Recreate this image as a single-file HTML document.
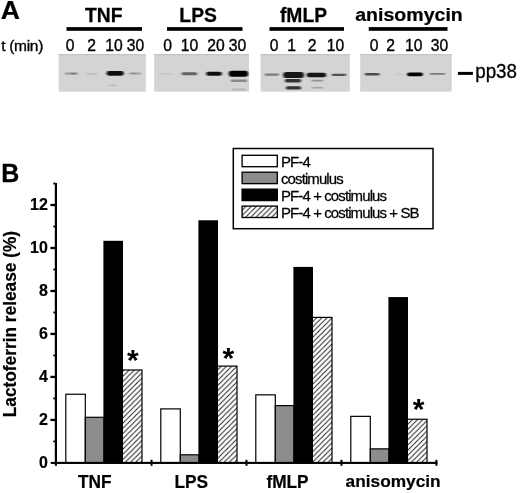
<!DOCTYPE html>
<html><head><meta charset="utf-8"><title>Figure</title>
<style>
html,body{margin:0;padding:0;background:#fff;}
body{width:520px;height:493px;overflow:hidden;}
svg{display:block;font-family:"Liberation Sans",Arial,sans-serif;}
.b{font-weight:bold;}
</style></head><body>
<svg width="520" height="493" viewBox="0 0 520 493">
<defs>
<pattern id="hatch" patternUnits="userSpaceOnUse" width="5.2" height="5.2">
<rect width="5.2" height="5.2" fill="#fff"/>
<path d="M-1,6.2 L6.2,-1 M-1,1 L1,-1 M4.2,6.2 L6.2,4.2" stroke="#1a1a1a" stroke-width="0.95" fill="none"/>
</pattern>
<filter id="bl1" x="-20%" y="-100%" width="140%" height="300%"><feGaussianBlur stdDeviation="1.2 0.7"/></filter>
<filter id="bl2" x="-20%" y="-100%" width="140%" height="300%"><feGaussianBlur stdDeviation="0.9 0.6"/></filter>
<filter id="bl3" x="-5%" y="-5%" width="110%" height="110%"><feGaussianBlur stdDeviation="0.5"/></filter>
</defs>
<rect width="520" height="493" fill="#fff"/>

<text class="b" transform="translate(0.7,19.0) scale(1,0.98)" font-size="26.6" stroke="#000" stroke-width="0.25">A</text>
<text class="b" transform="translate(1.3,181.6) scale(1,1.04)" font-size="25" stroke="#000" stroke-width="0.25">B</text>
<text x="1.2" y="50.8" font-size="15.5" letter-spacing="-0.3" stroke="#000" stroke-width="0.35">t (min)</text>
<text class="b" transform="translate(103.75,21.6) scale(1,1.03)" font-size="19.3" text-anchor="middle" stroke="#000" stroke-width="0.25">TNF</text>
<rect x="66.5" y="27.1" width="75.5" height="3.7" fill="#000"/>
<text class="b" transform="translate(198.1,21.6) scale(1,1.03)" font-size="19.3" text-anchor="middle" stroke="#000" stroke-width="0.25">LPS</text>
<rect x="167" y="27.1" width="75.5" height="3.7" fill="#000"/>
<text class="b" transform="translate(303.5,21.6) scale(1,1.03)" font-size="19.3" text-anchor="middle" stroke="#000" stroke-width="0.25">fMLP</text>
<rect x="269.5" y="27.1" width="74.5" height="3.7" fill="#000"/>
<text class="b" transform="translate(409,21.0) scale(1,0.97)" font-size="19.55" text-anchor="middle" stroke="#000" stroke-width="0.25">anisomycin</text>
<rect x="368.75" y="27.1" width="78.75" height="3.7" fill="#000"/>
<text transform="translate(70.1,51) scale(1,1.04)" font-size="15.7" text-anchor="middle" stroke="#000" stroke-width="0.35">0</text>
<text transform="translate(91.6,51) scale(1,1.04)" font-size="15.7" text-anchor="middle" stroke="#000" stroke-width="0.35">2</text>
<text transform="translate(114,51) scale(1,1.04)" font-size="15.7" text-anchor="middle" stroke="#000" stroke-width="0.35">10</text>
<text transform="translate(135.4,51) scale(1,1.04)" font-size="15.7" text-anchor="middle" stroke="#000" stroke-width="0.35">30</text>
<text transform="translate(167.5,51) scale(1,1.04)" font-size="15.7" text-anchor="middle" stroke="#000" stroke-width="0.35">0</text>
<text transform="translate(189.4,51) scale(1,1.04)" font-size="15.7" text-anchor="middle" stroke="#000" stroke-width="0.35">10</text>
<text transform="translate(215.9,51) scale(1,1.04)" font-size="15.7" text-anchor="middle" stroke="#000" stroke-width="0.35">20</text>
<text transform="translate(237.4,51) scale(1,1.04)" font-size="15.7" text-anchor="middle" stroke="#000" stroke-width="0.35">30</text>
<text transform="translate(274,51) scale(1,1.04)" font-size="15.7" text-anchor="middle" stroke="#000" stroke-width="0.35">0</text>
<text transform="translate(291.5,51) scale(1,1.04)" font-size="15.7" text-anchor="middle" stroke="#000" stroke-width="0.35">1</text>
<text transform="translate(312.1,51) scale(1,1.04)" font-size="15.7" text-anchor="middle" stroke="#000" stroke-width="0.35">2</text>
<text transform="translate(335.5,51) scale(1,1.04)" font-size="15.7" text-anchor="middle" stroke="#000" stroke-width="0.35">10</text>
<text transform="translate(374,51) scale(1,1.04)" font-size="15.7" text-anchor="middle" stroke="#000" stroke-width="0.35">0</text>
<text transform="translate(390.6,51) scale(1,1.04)" font-size="15.7" text-anchor="middle" stroke="#000" stroke-width="0.35">2</text>
<text transform="translate(413.75,51) scale(1,1.04)" font-size="15.7" text-anchor="middle" stroke="#000" stroke-width="0.35">10</text>
<text transform="translate(439.4,51) scale(1,1.04)" font-size="15.7" text-anchor="middle" stroke="#000" stroke-width="0.35">30</text>
<g filter="url(#bl3)">
<rect x="58.7" y="54" width="87.10000000000001" height="37.7" fill="#d4d4d4"/>
<rect x="58.7" y="54" width="87.10000000000001" height="1.2" fill="#c2c2c2"/>
<rect x="154.2" y="54" width="94.80000000000001" height="37.7" fill="#d4d4d4"/>
<rect x="154.2" y="54" width="94.80000000000001" height="1.2" fill="#c2c2c2"/>
<rect x="260.6" y="54" width="89.19999999999999" height="37.7" fill="#d4d4d4"/>
<rect x="260.6" y="54" width="89.19999999999999" height="1.2" fill="#c2c2c2"/>
<rect x="360.2" y="54" width="91.5" height="37.7" fill="#d4d4d4"/>
<rect x="360.2" y="54" width="91.5" height="1.2" fill="#c2c2c2"/>
</g>
<rect x="64.6" y="72.5" width="13.4" height="2" rx="1.0" fill="#666" opacity="0.55" filter="url(#bl1)"/>
<rect x="70.8" y="72.8" width="5.4" height="1.6" rx="0.8" fill="#555" opacity="0.5" filter="url(#bl1)"/>
<rect x="86.39999999999999" y="72.9" width="10.800000000000006" height="1.6" rx="0.8" fill="#888" opacity="0.35" filter="url(#bl1)"/>
<rect x="106.6" y="70.95" width="17.199999999999996" height="4.7" rx="2.35" fill="#0a0a0a" opacity="1" filter="url(#bl2)"/>
<rect x="128.8" y="72.6" width="12.4" height="1.8" rx="0.9" fill="#777" opacity="0.5" filter="url(#bl1)"/>
<rect x="130.8" y="72.65" width="5.4" height="1.5" rx="0.75" fill="#666" opacity="0.4" filter="url(#bl1)"/>
<rect x="108.5" y="84.65" width="7.6999999999999975" height="1.5" rx="0.75" fill="#888" opacity="0.35" filter="url(#bl1)"/>
<rect x="159.4" y="73.0" width="12.800000000000006" height="1.6" rx="0.8" fill="#999" opacity="0.3" filter="url(#bl1)"/>
<rect x="181.60000000000002" y="72.3" width="15.599999999999989" height="3" rx="1.5" fill="#444" opacity="0.8" filter="url(#bl2)"/>
<rect x="206.20000000000002" y="71.8" width="15.699999999999983" height="4" rx="2.0" fill="#111" opacity="1" filter="url(#bl2)"/>
<rect x="228.70000000000002" y="70.8" width="19.499999999999993" height="6" rx="3.0" fill="#000" opacity="1" filter="url(#bl2)"/>
<rect x="230.8" y="79.4" width="16.4" height="2.6" rx="1.3" fill="#555" opacity="0.6" filter="url(#bl1)"/>
<rect x="231.8" y="88.6" width="14.4" height="2" rx="1.0" fill="#888" opacity="0.4" filter="url(#bl1)"/>
<rect x="264.6" y="73.5" width="14.4" height="2.2" rx="1.1" fill="#555" opacity="0.7" filter="url(#bl1)"/>
<rect x="283.1" y="71.9" width="20.9" height="6.2" rx="3.1" fill="#161616" opacity="1" filter="url(#bl2)"/>
<rect x="284.8" y="79.0" width="16.4" height="3.6" rx="1.8" fill="#2a2a2a" opacity="0.95" filter="url(#bl2)"/>
<rect x="285.8" y="86.2" width="15.4" height="3.4" rx="1.7" fill="#2a2a2a" opacity="0.95" filter="url(#bl2)"/>
<rect x="306.6" y="72.65" width="19.599999999999987" height="4.5" rx="2.25" fill="#161616" opacity="1" filter="url(#bl2)"/>
<rect x="311.40000000000003" y="79.8" width="11.799999999999978" height="1.6" rx="0.8" fill="#666" opacity="0.6" filter="url(#bl1)"/>
<rect x="311.40000000000003" y="86.9" width="11.799999999999978" height="1.6" rx="0.8" fill="#777" opacity="0.5" filter="url(#bl1)"/>
<rect x="331.6" y="73.7" width="14.599999999999989" height="2.2" rx="1.1" fill="#333" opacity="0.8" filter="url(#bl1)"/>
<rect x="364.8" y="72.95" width="14.799999999999978" height="2.5" rx="1.25" fill="#333" opacity="0.85" filter="url(#bl1)"/>
<rect x="397.5" y="73.45" width="4.200000000000012" height="1.5" rx="0.75" fill="#999" opacity="0.3" filter="url(#bl1)"/>
<rect x="407.1" y="72.39999999999999" width="15.799999999999978" height="3.8" rx="1.9" fill="#000" opacity="1" filter="url(#bl2)"/>
<rect x="429.5" y="72.89999999999999" width="15.700000000000012" height="1.8" rx="0.9" fill="#555" opacity="0.7" filter="url(#bl1)"/>
<rect x="457.9" y="71.9" width="15" height="3" fill="#000"/>
<text transform="translate(475.2,78.2) scale(1,1.07)" font-size="18.8" stroke="#000" stroke-width="0.3">pp38</text>
<rect x="233.3" y="148.5" width="199.7" height="80.2" fill="#fff" stroke="#000" stroke-width="1.5"/>
<rect x="242.1" y="155.30" width="35.2" height="11.4" fill="#fff" stroke="#000" stroke-width="1.35"/>
<text transform="translate(281,167.2) scale(1,1.03)" font-size="15" letter-spacing="-0.9" stroke="#000" stroke-width="0.25">PF-4</text>
<rect x="242.1" y="172.23" width="35.2" height="11.4" fill="#8c8c8c" stroke="#000" stroke-width="1.35"/>
<text transform="translate(281,184.2) scale(1,1.03)" font-size="15" letter-spacing="-0.9" stroke="#000" stroke-width="0.25">costimulus</text>
<rect x="242.1" y="189.16" width="35.2" height="11.4" fill="#000" stroke="#000" stroke-width="1.35"/>
<text transform="translate(281,201.2) scale(1,1.03)" font-size="15" letter-spacing="-0.9" stroke="#000" stroke-width="0.25">PF-4 + costimulus</text>
<rect x="242.1" y="206.09" width="35.2" height="11.4" fill="url(#hatch)" stroke="#000" stroke-width="1.35"/>
<text transform="translate(281,218.2) scale(1,1.03)" font-size="15" letter-spacing="-0.9" stroke="#000" stroke-width="0.25">PF-4 + costimulus + SB</text>
<rect x="65.80" y="394.25" width="19.50" height="68.65" fill="#fff" stroke="#000" stroke-width="1.2"/>
<rect x="85.30" y="417.30" width="18.70" height="45.60" fill="#8c8c8c" stroke="#000" stroke-width="1.2"/>
<rect x="104.00" y="241.40" width="18.40" height="221.50" fill="#000" stroke="#000" stroke-width="1.2"/>
<rect x="122.40" y="370.00" width="19.60" height="92.90" fill="url(#hatch)" stroke="#000" stroke-width="1.2"/>
<rect x="160.80" y="408.90" width="19.50" height="54.00" fill="#fff" stroke="#000" stroke-width="1.2"/>
<rect x="180.30" y="454.80" width="18.70" height="8.10" fill="#8c8c8c" stroke="#000" stroke-width="1.2"/>
<rect x="199.00" y="220.90" width="18.40" height="242.00" fill="#000" stroke="#000" stroke-width="1.2"/>
<rect x="217.40" y="366.10" width="19.60" height="96.80" fill="url(#hatch)" stroke="#000" stroke-width="1.2"/>
<rect x="255.80" y="394.85" width="19.50" height="68.05" fill="#fff" stroke="#000" stroke-width="1.2"/>
<rect x="275.30" y="405.60" width="18.70" height="57.30" fill="#8c8c8c" stroke="#000" stroke-width="1.2"/>
<rect x="294.00" y="267.50" width="18.40" height="195.40" fill="#000" stroke="#000" stroke-width="1.2"/>
<rect x="312.40" y="317.40" width="19.60" height="145.50" fill="url(#hatch)" stroke="#000" stroke-width="1.2"/>
<rect x="350.80" y="416.35" width="19.50" height="46.55" fill="#fff" stroke="#000" stroke-width="1.2"/>
<rect x="370.30" y="448.85" width="18.70" height="14.05" fill="#8c8c8c" stroke="#000" stroke-width="1.2"/>
<rect x="389.00" y="297.70" width="18.40" height="165.20" fill="#000" stroke="#000" stroke-width="1.2"/>
<rect x="407.40" y="419.25" width="19.60" height="43.65" fill="url(#hatch)" stroke="#000" stroke-width="1.2"/>
<rect x="54.8" y="183" width="2.2" height="282.8" fill="#000"/>
<rect x="50.7" y="461.84999999999997" width="386.7" height="2.1" fill="#000"/>
<rect x="53.3" y="440.51" width="2" height="1.8" fill="#000"/>
<rect x="50.4" y="418.77" width="5" height="2.3" fill="#000"/>
<rect x="53.3" y="397.53" width="2" height="1.8" fill="#000"/>
<rect x="50.4" y="375.79" width="5" height="2.3" fill="#000"/>
<rect x="53.3" y="354.55" width="2" height="1.8" fill="#000"/>
<rect x="50.4" y="332.81" width="5" height="2.3" fill="#000"/>
<rect x="53.3" y="311.57" width="2" height="1.8" fill="#000"/>
<rect x="50.4" y="289.83" width="5" height="2.3" fill="#000"/>
<rect x="53.3" y="268.59" width="2" height="1.8" fill="#000"/>
<rect x="50.4" y="246.85" width="5" height="2.3" fill="#000"/>
<rect x="53.3" y="225.61" width="2" height="1.8" fill="#000"/>
<rect x="50.4" y="203.87" width="5" height="2.3" fill="#000"/>
<rect x="53.3" y="182.63" width="2" height="1.8" fill="#000"/>
<text class="b" transform="translate(47.9,467.95) scale(1,1.06)" font-size="16" text-anchor="end" stroke="#000" stroke-width="0.2">0</text>
<text class="b" transform="translate(47.9,424.89) scale(1,1.06)" font-size="16" text-anchor="end" stroke="#000" stroke-width="0.2">2</text>
<text class="b" transform="translate(47.9,381.83) scale(1,1.06)" font-size="16" text-anchor="end" stroke="#000" stroke-width="0.2">4</text>
<text class="b" transform="translate(47.9,338.77) scale(1,1.06)" font-size="16" text-anchor="end" stroke="#000" stroke-width="0.2">6</text>
<text class="b" transform="translate(47.9,295.71) scale(1,1.06)" font-size="16" text-anchor="end" stroke="#000" stroke-width="0.2">8</text>
<text class="b" transform="translate(47.9,252.65) scale(1,1.06)" font-size="16" text-anchor="end" stroke="#000" stroke-width="0.2">10</text>
<text class="b" transform="translate(47.9,209.59) scale(1,1.06)" font-size="16" text-anchor="end" stroke="#000" stroke-width="0.2">12</text>
<rect x="150.55" y="459.8" width="2" height="6" fill="#000"/>
<rect x="245.50" y="459.8" width="2" height="6" fill="#000"/>
<rect x="340.45" y="459.8" width="2" height="6" fill="#000"/>
<rect x="435.40" y="459.8" width="2" height="6" fill="#000"/>
<text class="b" transform="translate(94.7,487.5) scale(1,1.03)" font-size="17.3" text-anchor="middle" stroke="#000" stroke-width="0.2">TNF</text>
<text class="b" transform="translate(191.25,487.5) scale(1,1.03)" font-size="17.3" text-anchor="middle" stroke="#000" stroke-width="0.2">LPS</text>
<text class="b" transform="translate(287.5,487.5) scale(1,1.03)" font-size="17.3" text-anchor="middle" stroke="#000" stroke-width="0.2">fMLP</text>
<text class="b" transform="translate(393.1,486.9) scale(1,0.98)" font-size="17.3" text-anchor="middle" stroke="#000" stroke-width="0.2">anisomycin</text>
<text class="b" transform="translate(15.8,324.1) rotate(-90) scale(1,1.04)" font-size="17.3" text-anchor="middle" stroke="#000" stroke-width="0.2">Lactoferrin release (%)</text>
<text class="b" x="132.9" y="369.5" font-size="30" text-anchor="middle">*</text>
<text class="b" x="228.4" y="367.79999999999995" font-size="30" text-anchor="middle">*</text>
<text class="b" x="418.5" y="419.29999999999995" font-size="30" text-anchor="middle">*</text>
</svg></body></html>
